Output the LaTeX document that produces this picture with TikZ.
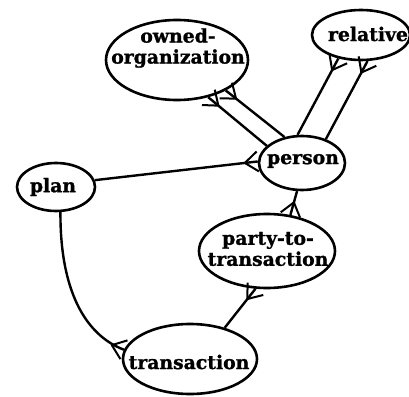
\documentclass[tikz,border=0pt]{standalone}
\usepackage{fontspec}
\setmainfont{DejaVu Serif}[BoldFeatures={FakeBold=1.2}]
\usetikzlibrary{shapes.geometric,decorations.markings}
\tikzset{
  ent/.style={draw, ellipse, line width=2.6pt, inner sep=0pt},
  lbl/.style={font=\bfseries\fontsize{18.8}{21}\selectfont, align=center, inner sep=0pt},
  link/.style={line width=2.4pt},
  crowend/.style={link, postaction={decorate, decoration={markings,
      mark=at position 1 with {\draw[line width=2pt, line join=round]
        (0pt,10pt) -- (-13pt,0pt) -- (0pt,-10pt);}}}},
}
\begin{document}
\begin{tikzpicture}[x=1pt, y=-1pt]
\useasboundingbox (0,0) rectangle (409,396);
% entities
\node[ent, minimum width=142pt, minimum height=80pt] (owned) at (177,60) {};
\node[ent, minimum width=98pt, minimum height=50pt] (relative) at (361,35) {};
\node[ent, minimum width=86pt, minimum height=54pt] (person) at (302,163) {};
\node[ent, minimum width=78pt, minimum height=48pt] (plan) at (56,187) {};
\node[ent, minimum width=136pt, minimum height=74pt] (party) at (267,251) {};
\node[ent, minimum width=134pt, minimum height=70pt] (transaction) at (190,359) {};
% labels
\node[lbl] (owned-t) at (178,48) {owned-\\organization};
\node[lbl] (relative-t) at (368,34) {relative};
\node[lbl] (person-t) at (303,161) {person};
\node[lbl] (plan-t) at (53,187) {plan};
\node[lbl] (party-t) at (268,249) {party-to-\\transaction};
\node[lbl] (transaction-t) at (189,362) {transaction};
% connectors
\draw[crowend] (person.154.7) -- (owned.-50);
\draw[crowend] (person.124) -- (owned.-32);
\draw[crowend] (person.99) -- (relative.226);
\draw[crowend] (person.45) -- (relative.-76);
\draw[crowend] (plan.10) -- (person.178);
\draw[crowend] (person.-100) -- (party.57);
\draw[crowend] (transaction.42) -- (party.-107);
\draw[crowend] (plan.-80) .. controls (60,290) and (85,335) .. (transaction.172);
\end{tikzpicture}
\end{document}
